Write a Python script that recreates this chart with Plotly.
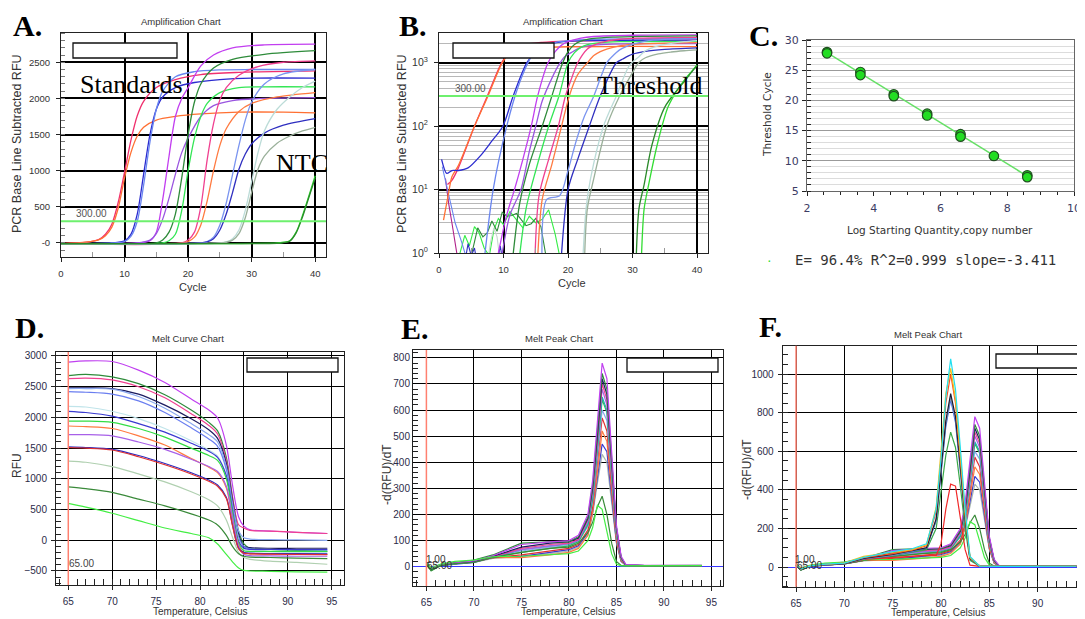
import plotly.graph_objects as go

W, H = 1085, 619
OFF = 8  # the page body keeps its default 8px margin
FW, FH = W - OFF, H - OFF

# ---------------- A / B : amplification curves (16 wells) ----------------
WELL_COLORS = ["#f0306e", "#ff7033", "#2b2bd0", "#6a86f0", "#c23ef0", "#9a55e0",
               "#2e8b3a", "#33e655", "#f04090", "#ff7a40", "#7a94f0", "#2f2fc0",
               "#bcdcd8", "#9ab09a", "#33dd33", "#2a8a2a"]

A_X = [
    [0, 4, 6, 7, 8, 9, 10, 11, 12, 13, 15, 18, 22, 28, 40],
    [0, 4, 6, 7, 8, 9, 10, 11, 12, 13, 15, 18, 22, 28, 35, 40],
    [0, 8, 10, 11, 12, 13, 14, 15, 16, 18, 21, 25, 30, 40],
    [0, 8, 10, 11, 12, 13, 14, 15, 16, 18, 21, 25, 30, 40],
    [0, 12, 14, 15, 16, 17, 18, 19, 20, 22, 24, 27, 32, 40],
    [0, 12, 14, 15, 16, 17, 18, 19, 20, 22, 24, 27, 32, 40],
    [0, 15, 16, 17, 18, 19, 20, 21, 22, 24, 27, 32, 40],
    [0, 16, 17, 18, 19, 20, 21, 22, 23, 25, 28, 32, 40],
    [0, 19, 20, 21, 22, 23, 24, 25, 26, 28, 31, 35, 40],
    [0, 19, 20, 21, 22, 23, 24, 25, 26, 28, 30, 34, 40],
    [0, 22, 23, 24, 25, 26, 27, 28, 29, 30, 32, 35, 40],
    [0, 22, 23, 24, 25, 26, 27, 28, 29, 30, 32, 35, 40],
    [0, 25, 26, 27, 28, 29, 30, 31, 32, 34, 36, 38, 40],
    [0, 25, 26, 27, 28, 29, 30, 31, 32, 34, 36, 38, 40],
    [0, 24, 34, 35, 36, 37, 38, 39, 40],
    [0, 24, 34, 35, 36, 37, 38, 39, 40],
]
A_Y = [
    [-10, 10, 50, 120, 260, 560, 980, 1420, 1760, 1960, 2150, 2260, 2330, 2360, 2380],
    [-10, 10, 45, 100, 220, 480, 900, 1250, 1480, 1600, 1700, 1750, 1785, 1810, 1810, 1800],
    [-10, 0, 30, 120, 400, 950, 1500, 1850, 2020, 2150, 2220, 2260, 2280, 2280],
    [-10, 0, 20, 90, 300, 800, 1400, 1850, 2100, 2300, 2370, 2395, 2400, 2400],
    [-10, 0, 30, 150, 600, 1200, 1750, 2000, 2150, 2450, 2600, 2700, 2740, 2750],
    [-10, 0, 40, 130, 330, 620, 950, 1250, 1450, 1750, 1900, 1970, 2000, 2010],
    [-10, 0, 40, 150, 400, 900, 1500, 1950, 2200, 2420, 2540, 2610, 2660],
    [-10, 0, 30, 120, 450, 1000, 1450, 1750, 1930, 2080, 2150, 2160, 2160],
    [-10, 0, 40, 150, 500, 1150, 1650, 1980, 2150, 2320, 2440, 2500, 2520],
    [-10, 0, 20, 80, 250, 580, 1000, 1350, 1580, 1820, 1930, 2020, 2080],
    [-10, 0, 20, 80, 250, 550, 950, 1350, 1700, 1950, 2200, 2340, 2400],
    [-10, 0, 15, 60, 180, 400, 700, 1020, 1230, 1370, 1520, 1630, 1720],
    [-10, 0, 15, 60, 180, 450, 850, 1250, 1550, 1850, 2020, 2150, 2240],
    [-10, 0, 10, 40, 130, 350, 700, 1020, 1200, 1380, 1480, 1550, 1600],
    [-10, -10, 0, 10, 30, 150, 380, 650, 930],
    [-10, -10, -5, 5, 25, 140, 360, 630, 900],
]

B_X = [
    [1.3, 2, 3, 5.5, 7.5, 9.7, 11, 13, 16, 20, 30, 40],
    [0.7, 1.5, 2, 3, 5.5, 7.6, 9.8, 11, 13, 16, 20, 30, 40],
    [0.4, 1.2, 2, 3, 4.5, 6.4, 8, 9.9, 11.5, 13.6, 15, 17, 20, 30, 40],
    [6.8, 8.4, 10.5, 12.2, 13.8, 15, 18, 25, 40],
    [9.2, 10.5, 11.7, 13, 14.3, 15.3, 16.9, 18, 19, 20, 22, 24, 30, 40],
    [9.8, 11, 12.7, 14, 15, 16, 17.6, 18.5, 19.5, 20.5, 22, 24, 27, 32, 40],
    [11.2, 12.5, 14, 16, 17.5, 19, 20, 21, 22, 24, 27, 32, 40],
    [12.2, 13.5, 15, 17, 18.6, 20, 21, 22, 23, 25, 28, 40],
    [14.8, 15.5, 17, 18.5, 19.6, 20.5, 21.5, 23, 24, 26, 28, 31, 40],
    [15.2, 16, 17.5, 19, 20.2, 21.5, 23, 24, 25, 26, 28, 30, 34, 40],
    [16, 16.7, 18.7, 20, 21.3, 22.5, 24, 26, 27, 28, 29, 30, 32, 35, 40],
    [18.8, 20, 21.5, 23.3, 25, 27.5, 28.5, 30, 32, 35, 40],
    [22.2, 22.8, 23.5, 25.5, 27.5, 29.5, 31, 32, 34, 36, 38, 40],
    [22.5, 23, 24, 26, 28, 30, 31, 32, 34, 36, 38, 40],
    [31.3, 31.8, 32.5, 34, 35.5, 37, 38, 39, 40],
    [30.5, 31, 31.8, 33, 35, 37, 38, 39, 40],
]
B_Y = [
    [12, 14, 22, 100, 300, 1000, 1500, 1900, 2100, 2200, 2250, 2300],
    [3.3, 9, 16, 24, 100, 300, 1000, 1400, 1650, 1750, 1790, 1810, 1800],
    [30, 18, 20, 20, 22, 34, 55, 100, 300, 1000, 1500, 1950, 2200, 2270, 2280],
    [0.5, 10, 100, 400, 1000, 1600, 2100, 2350, 2400],
    [1, 4, 10, 30, 100, 300, 1000, 1500, 1900, 2150, 2450, 2600, 2720, 2750],
    [1, 4, 10, 40, 100, 250, 600, 900, 1250, 1450, 1750, 1900, 1970, 2000, 2010],
    [0.5, 6, 25, 100, 300, 900, 1500, 1950, 2200, 2420, 2540, 2610, 2660],
    [0.5, 5, 20, 100, 300, 1000, 1450, 1750, 1930, 2080, 2150, 2160],
    [0.5, 8, 30, 100, 300, 550, 1000, 1650, 1900, 2200, 2350, 2450, 2520],
    [0.5, 7, 25, 100, 300, 650, 1000, 1300, 1500, 1650, 1850, 1950, 2030, 2080],
    [0.5, 7, 8, 20, 60, 140, 300, 1000, 1300, 1600, 1800, 1950, 2200, 2340, 2400],
    [0.5, 10, 30, 100, 300, 1000, 1150, 1370, 1520, 1630, 1720],
    [0.5, 5, 15, 100, 300, 900, 1250, 1550, 1850, 2020, 2150, 2240],
    [0.5, 5, 15, 100, 300, 700, 1020, 1200, 1380, 1480, 1550, 1600],
    [0.5, 5, 12, 60, 200, 380, 530, 700, 930],
    [0.5, 5, 12, 50, 200, 380, 500, 680, 900],
]

# early-cycle noise seen near the bottom of the log plot
NOISE_COLORS = ["#33ee44", "#2e8b3a", "#b0208a", "#c8d8d0", "#3030c0", "#6a86f0"]
NOISE_X = [
    [3, 4, 4.7, 5.5, 6.2, 7, 7.8, 8.5, 9.2, 10, 11, 12, 13, 14, 15, 16, 17, 18, 18.8],
    [5, 6, 6.8, 7.5, 8.2, 9, 9.8, 10.5, 11.3, 12, 12.8, 13.5, 14.3, 15, 15.8, 16.5],
    [1, 1.5, 2, 2.5, 3],
    [7.5, 8, 8.5, 9, 9.5],
    [4, 4.5, 5, 5.5, 6, 9, 9.5, 10],
    [0.5, 1.5, 2.5, 3.5, 4.3],
]
NOISE_Y = [
    [0.8, 1.9, 1.3, 2.6, 2.1, 1.2, 0.9, 2.3, 3.5, 2.8, 4.5, 3.3, 2.5, 3.8, 3.0, 3.4, 4.8, 2.0, 0.8],
    [0.9, 2.5, 1.8, 2.1, 3.2, 2.2, 4.4, 3.8, 3.9, 4.2, 3.3, 2.7, 2.9, 3.5, 2.6, 1.0],
    [15, 6, 3, 1.5, 0.7],
    [0.7, 1.5, 2.5, 1.8, 0.7],
    [0.7, 1.4, 0.9, 1.2, 0.6, 0.7, 1.3, 0.6],
    [23, 8, 3, 1.5, 0.8],
]
THRESHOLD = 300

# ---------------- C : standard curve ----------------
C_LOGQ = [2.6, 2.6, 3.6, 3.6, 4.6, 4.6, 5.6, 5.6, 6.6, 6.6, 7.6, 8.6, 8.6]
C_CT = [28.0, 27.8, 24.7, 24.2, 21.0, 20.7, 17.8, 17.5, 14.4, 14.0, 10.8, 7.6, 7.3]
FIT_X = [2.6, 8.6]
FIT_Y = [27.9, 7.45]
C_STATS = "E= 96.4% R^2=0.999 slope=-3.411"

# ---------------- D : melt curves ----------------
D_T = [65, 67, 70, 73, 76, 79, 81, 82, 83, 83.7, 84.4, 85, 85.7, 88, 91, 94.5]
D_COLORS = ["#c040f0", "#2e8b3a", "#f04090", "#1c1c60", "#8aa8f0", "#6a7ef0", "#c0e4ea",
            "#3a3ad0", "#33dd44", "#ff7a40", "#a860e8", "#2a2ac0", "#e03030", "#b0d0b0",
            "#3a8a3a", "#44ee44"]
D_Y = [
    [2900, 2920, 2910, 2770, 2570, 2300, 2120, 1990, 1550, 900, 380, 230, 170, 150, 130, 110],
    [2680, 2700, 2660, 2550, 2370, 2120, 1920, 1780, 1350, 700, 150, -60, -130, -150, -165, -180],
    [2630, 2640, 2610, 2500, 2320, 2060, 1870, 1730, 1300, 700, 250, 200, 160, 150, 130, 110],
    [2480, 2480, 2470, 2380, 2200, 1980, 1800, 1660, 1250, 650, 100, -100, -120, -130, -130, -130],
    [2470, 2470, 2460, 2340, 2150, 1900, 1720, 1600, 1200, 600, 150, 40, 20, 10, 5, 0],
    [2420, 2410, 2380, 2270, 2080, 1830, 1650, 1530, 1150, 550, 50, -100, -140, -150, -155, -160],
    [2180, 2170, 2100, 1980, 1820, 1620, 1470, 1370, 1050, 500, 0, -150, -180, -190, -200, -200],
    [2100, 2080, 2020, 1900, 1760, 1580, 1450, 1350, 1050, 500, -20, -130, -150, -150, -150, -150],
    [1940, 1940, 1920, 1820, 1680, 1500, 1380, 1300, 1000, 450, -50, -170, -180, -180, -180, -180],
    [1860, 1850, 1820, 1700, 1550, 1330, 1190, 1100, 850, 350, -80, -200, -220, -225, -230, -230],
    [1720, 1720, 1700, 1600, 1480, 1320, 1200, 1120, 880, 380, -100, -230, -250, -255, -260, -260],
    [1520, 1510, 1480, 1380, 1250, 1100, 980, 900, 700, 250, -130, -200, -210, -215, -215, -220],
    [1510, 1500, 1470, 1360, 1230, 1080, 960, 880, 680, 240, -140, -210, -220, -225, -230, -235],
    [1290, 1270, 1200, 1080, 950, 790, 660, 560, 330, 50, -200, -280, -310, -340, -360, -390],
    [870, 840, 780, 670, 560, 430, 330, 250, 80, -100, -220, -260, -275, -280, -290, -300],
    [600, 540, 440, 320, 200, 110, 40, -60, -230, -350, -450, -490, -500, -505, -515, -520],
]

# ---------------- E : melt peaks (single product, ~83.5 C) ----------------
E_T = [65, 65.5, 66.5, 68, 70, 72, 75, 78, 80, 81, 82, 82.5, 83, 83.5, 84, 84.5, 85, 85.5, 86, 88, 94]
E_COLORS = ["#a8b8b0", "#3a3ad0", "#ff7a40", "#e03030", "#8aa8f0", "#33bb55", "#20b0b0",
            "#a860e8", "#f04090", "#1c1c60", "#2e8b3a", "#c040f0", "#3a8a3a", "#44ee44"]
E_Y = [
    [10, -5, 6, 12, 16, 32, 40, 50, 60, 75, 120, 200, 320, 430, 400, 250, 90, 20, 5, 4, 4],
    [8, -12, 4, 10, 16, 35, 40, 55, 65, 80, 130, 210, 340, 470, 440, 270, 95, 20, 5, 4, 4],
    [10, -8, 5, 12, 18, 35, 35, 45, 55, 70, 120, 210, 360, 520, 480, 290, 100, 22, 5, 4, 4],
    [8, -10, 5, 12, 18, 35, 45, 60, 70, 85, 140, 230, 400, 570, 520, 310, 110, 25, 5, 4, 4],
    [12, -8, 6, 14, 20, 40, 60, 75, 80, 95, 155, 250, 420, 600, 560, 340, 120, 28, 6, 4, 4],
    [10, -15, 5, 12, 18, 38, 55, 70, 80, 95, 160, 260, 440, 640, 590, 350, 125, 28, 5, 4, 4],
    [10, -10, 5, 12, 18, 36, 65, 80, 85, 100, 165, 270, 450, 650, 600, 360, 130, 30, 6, 4, 4],
    [12, -6, 6, 14, 20, 40, 65, 80, 88, 100, 175, 285, 470, 680, 620, 370, 135, 30, 6, 4, 4],
    [14, -5, 8, 15, 20, 38, 70, 85, 90, 105, 180, 290, 480, 700, 640, 380, 140, 30, 6, 4, 4],
    [10, -12, 5, 14, 20, 40, 75, 90, 95, 110, 185, 300, 500, 720, 660, 390, 150, 35, 6, 4, 4],
    [12, -8, 8, 16, 25, 45, 90, 95, 95, 115, 190, 310, 510, 740, 680, 400, 150, 35, 6, 4, 5],
    [15, -5, 8, 15, 22, 42, 85, 95, 100, 120, 200, 330, 540, 780, 720, 420, 160, 40, 8, 5, 5],
    [12, -15, 5, 12, 16, 35, 55, 70, 75, 90, 130, 170, 230, 270, 200, 90, 20, 5, 3, 3, 4],
    [15, -5, 10, 20, 25, 38, 40, 45, 50, 60, 100, 150, 235, 220, 140, 50, 10, 3, 3, 3, 4],
]

# ---------------- F : melt peaks with extra product (~81 C) ----------------
F_T = [65, 65.5, 66.5, 68, 70, 72, 75, 77, 78.5, 79.5, 80, 80.5, 81, 81.5, 82, 82.5, 83, 84, 86, 94]
F_COLORS = ["#f02828", "#3aa84a", "#3060f0", "#8899aa", "#1a1a30", "#ff5020", "#f0c020", "#22e0f0"]
F_Y = [
    [8, -8, 5, 12, 18, 40, 50, 55, 60, 60, 120, 300, 430, 420, 260, 90, 10, 3, 3, 4],
    [10, -12, 6, 14, 20, 45, 60, 78, 90, 200, 380, 580, 700, 620, 420, 200, 35, 5, 3, 4],
    [8, -10, 5, 12, 18, 42, 60, 80, 100, 240, 470, 730, 870, 750, 500, 240, 45, 5, 3, 4],
    [9, -10, 5, 13, 18, 44, 62, 82, 100, 245, 480, 745, 880, 770, 510, 245, 45, 5, 3, 4],
    [8, -15, 4, 12, 18, 45, 65, 85, 100, 250, 490, 760, 900, 780, 520, 250, 45, 5, 3, 4],
    [10, -12, 6, 14, 20, 48, 70, 88, 110, 290, 560, 850, 1000, 850, 560, 270, 50, 5, 3, 4],
    [12, -8, 8, 15, 22, 55, 75, 90, 115, 310, 600, 900, 1030, 870, 580, 280, 50, 5, 3, 4],
    [10, -10, 6, 15, 20, 50, 80, 95, 120, 300, 560, 880, 1080, 920, 620, 300, 55, 5, 3, 4],
]
MELT_START = 65

SANS = "Liberation Sans"
SERIF = "Liberation Serif"
LABEL = "#2b2b48"


def px(x):
    # screen pixel -> paper fraction
    return (x - OFF) / FW


def py(y):
    return 1 - (y - OFF) / FH


def box_axis(**kw):
    ax = dict(showline=True, mirror=True, linecolor="#222", linewidth=1, zeroline=False,
              ticks="outside", ticklen=4, tickcolor="#222", showgrid=True, gridcolor="#000",
              gridwidth=1.2, tickfont=dict(family=SANS, size=10, color=LABEL),
              ticklabeloverflow="allow")
    ax.update(kw)
    return ax


fig = go.Figure()


def add_lines(xs_list, ys_list, colors, axis, shape="spline", width=1.3):
    for xs, ys, c in zip(xs_list, ys_list, colors):
        fig.add_trace(go.Scatter(
            x=xs, y=ys, mode="lines", xaxis=axis[0], yaxis=axis[1], hoverinfo="skip",
            line=dict(color=c, width=width, shape=shape, smoothing=0.8 if shape == "spline" else None),
        ))


# A
add_lines(A_X, A_Y, WELL_COLORS, ("x", "y"))
# B
add_lines(NOISE_X, NOISE_Y, NOISE_COLORS, ("x2", "y2"), shape="linear", width=1.1)
add_lines(B_X, B_Y, WELL_COLORS, ("x2", "y2"))
# C
fig.add_trace(go.Scatter(x=FIT_X, y=FIT_Y, mode="lines", xaxis="x3", yaxis="y3",
                         line=dict(color="#66e066", width=1.5), hoverinfo="skip"))
fig.add_trace(go.Scatter(x=C_LOGQ, y=C_CT, mode="markers", xaxis="x3", yaxis="y3",
                         marker=dict(size=9.5, color="#22dd22", line=dict(color="#1f4f1f", width=1.2)),
                         hoverinfo="skip"))
# D
add_lines([D_T] * len(D_Y), D_Y, D_COLORS, ("x4", "y4"), width=1.2)
# E
add_lines([E_T] * len(E_Y), E_Y, E_COLORS, ("x5", "y5"), shape="linear", width=1.2)
# F
add_lines([E_T] * len(E_Y), E_Y, E_COLORS, ("x6", "y6"), shape="linear", width=1.2)
add_lines([F_T] * len(F_Y), F_Y, F_COLORS, ("x6", "y6"), shape="linear", width=1.2)

amp_font = dict(family=SANS, size=9.5, color="#333")
a_ticks = [0, 500, 1000, 1500, 2000, 2500]

layout_axes = dict(
    # A
    xaxis=box_axis(domain=[px(61), px(326)], range=[0, 41.7], tickvals=[0, 10, 20, 30, 40],
                   gridwidth=1.8, tickfont=amp_font, ticklabelstandoff=4, anchor="y",
                   minor=dict(ticks="inside", tickmode="linear", tick0=5, dtick=10, ticklen=5,
                              tickcolor="#999")),
    yaxis=box_axis(domain=[py(257), py(33)], range=[-194, 2905], tickvals=a_ticks,
                   ticktext=["-0"] + [str(v) for v in a_ticks[1:]], gridwidth=1.8,
                   tickfont=amp_font, ticklabelstandoff=4, anchor="x",
                   minor=dict(ticks="inside", tickmode="linear", tick0=0, dtick=100, ticklen=4,
                              tickcolor="#777")),
    # B
    xaxis2=box_axis(domain=[px(439), px(708)], range=[0, 41.7], tickvals=[0, 10, 20, 30, 40],
                    gridwidth=1.8, tickfont=amp_font, ticklabelstandoff=4, anchor="y2",
                    minor=dict(ticks="inside", tickmode="linear", tick0=5, dtick=10, ticklen=5,
                               tickcolor="#999")),
    yaxis2=box_axis(domain=[py(253), py(33)], type="log", range=[0, 3.47],
                    tickvals=[1, 10, 100, 1000],
                    ticktext=["10<sup>0</sup>", "10<sup>1</sup>", "10<sup>2</sup>", "10<sup>3</sup>"],
                    gridwidth=1.8, tickfont=dict(family=SANS, size=10.5, color="#333"),
                    ticklabelstandoff=4, anchor="x2",
                    minor=dict(tickmode="array", showgrid=True, gridcolor="#b8b8b8", gridwidth=1,
                               tickvals=[m * 10 ** e for e in range(4) for m in range(2, 10)])),
    # C
    xaxis3=box_axis(domain=[px(807), px(1074)], range=[2, 10], dtick=2, tick0=2, showgrid=False,
                    linecolor="#666", anchor="y3", ticklabelstandoff=3,
                    tickfont=dict(family="DejaVu Sans", size=11, color="#3c3c64"),
                    minor=dict(ticks="outside", tickmode="linear", tick0=2, dtick=0.5, ticklen=3,
                               tickcolor="#222")),
    yaxis3=box_axis(domain=[py(191), py(40)], range=[5, 30], dtick=5, tick0=5, gridcolor="#9a9a9a",
                    gridwidth=1, linecolor="#666", anchor="x3", ticklabelstandoff=1,
                    tickfont=dict(family="DejaVu Sans", size=11, color="#3c3c64"),
                    minor=dict(ticks="inside", tickmode="linear", tick0=5, dtick=1, ticklen=4,
                               tickcolor="#222", showgrid=True, gridcolor="#dcdcdc", gridwidth=1)),
    # D
    xaxis4=box_axis(domain=[px(56), px(344)], range=[63.6, 96.4], dtick=5, tick0=65, anchor="y4",
                    ticklabelstandoff=3,
                    minor=dict(ticks="inside", tickmode="linear", tick0=65, dtick=1, ticklen=6,
                               tickcolor="#222")),
    yaxis4=box_axis(domain=[py(585), py(352)], range=[-728, 3065], dtick=500, tick0=0, anchor="x4",
                    ticklabelstandoff=2,
                    minor=dict(ticks="inside", tickmode="linear", tick0=0, dtick=100, ticklen=5,
                               tickcolor="#222")),
    # E
    xaxis5=box_axis(domain=[px(413), px(723)], range=[63.59, 96.22], dtick=5, tick0=65, anchor="y5",
                    ticklabelstandoff=3,
                    minor=dict(ticks="inside", tickmode="linear", tick0=65, dtick=1, ticklen=6,
                               tickcolor="#222")),
    yaxis5=box_axis(domain=[py(586), py(350)], range=[-74, 830], dtick=100, tick0=0, anchor="x5",
                    zeroline=True, zerolinecolor="#3838ff", zerolinewidth=1.2, ticks="",
                    minor=dict(ticks="inside", tickmode="linear", tick0=0, dtick=20, ticklen=5,
                               tickcolor="#222")),
    # F
    xaxis6=box_axis(domain=[px(782.7), 1], range=[63.62, 94.9], dtick=5, tick0=65, anchor="y6",
                    ticklabelstandoff=3,
                    minor=dict(ticks="inside", tickmode="linear", tick0=65, dtick=1, ticklen=6,
                               tickcolor="#222")),
    yaxis6=box_axis(domain=[py(586.7), py(345.7)], range=[-102, 1148], dtick=200, tick0=0,
                    anchor="x6", mirror=False, zeroline=True, zerolinecolor="#3838ff",
                    zerolinewidth=1.2, ticklabelstandoff=2,
                    minor=dict(ticks="inside", tickmode="linear", tick0=0, dtick=50, ticklen=5,
                               tickcolor="#222")),
)

shapes = []
# legend placeholder boxes
for x0, y0, x1, y1 in [(73, 43, 177, 58), (453, 43, 554, 58), (247, 358, 338, 372),
                       (627, 358, 718, 372), (996, 354, 1090, 368)]:
    shapes.append(dict(type="rect", xref="paper", yref="paper", x0=px(x0), x1=px(x1),
                       y0=py(y1), y1=py(y0), fillcolor="white", line=dict(color="#111", width=1.3)))
# threshold lines
for xa, ya in [("x", "y"), ("x2", "y2")]:
    shapes.append(dict(type="line", xref=xa + " domain", yref=ya, x0=0, x1=1,
                       y0=THRESHOLD, y1=THRESHOLD, line=dict(color="#6ef06e", width=2)))
# melt start markers
for xa, ya in [("x4", "y4"), ("x5", "y5"), ("x6", "y6")]:
    shapes.append(dict(type="line", xref=xa, yref=ya + " domain", x0=MELT_START, x1=MELT_START,
                       y0=0, y1=1, line=dict(color="#ff8070", width=1.5)))

annotations = []


def note(text, x, y, size, family=SANS, color="#333", angle=0, bold=False):
    annotations.append(dict(
        text=f"<b>{text}</b>" if bold else text, x=px(x), y=py(y), xref="paper", yref="paper",
        showarrow=False, xanchor="center", yanchor="middle", textangle=angle,
        font=dict(family=family, size=size, color=color),
    ))


for letter, x, y in [("A.", 28, 25), ("B.", 413, 26), ("C.", 763, 35),
                     ("D.", 29, 327), ("E.", 415, 328), ("F.", 770, 326)]:
    note(letter, x, y, 30, family=SERIF, color="#000", bold=True)

note("Amplification Chart", 181, 21, 9.5)
note("Amplification Chart", 563, 21, 9.5)
note("Melt Curve Chart", 188, 338, 9.5)
note("Melt Peak Chart", 559, 338, 9.5)
note("Melt Peak Chart", 928, 334, 9.5)

note("PCR Base Line Subtracted RFU", 17, 144, 12.5, angle=-90)
note("PCR Base Line Subtracted RFU", 402, 144, 12.5, angle=-90)
note("Cycle", 193, 287, 11)
note("Cycle", 572, 283, 11)

note("Threshold Cycle", 767, 115, 10.5, family="DejaVu Sans", angle=-90)
note("Log Starting Quantity,copy number", 940, 230, 10.5, family="DejaVu Sans")
note(C_STATS, 925, 260, 14, family="DejaVu Sans Mono")
note("·", 769, 260, 14, color="#33dd33")

note("RFU", 17, 466, 12, angle=-90)
note("Temperature, Celsius", 200, 611, 10)
note("-d(RFU)/dT", 387, 475, 12, angle=-90)
note("Temperature, Celsius", 568, 611, 10)
note("-d(RFU)/dT", 747, 470, 12, angle=-90)
note("Temperature, Celsius", 938, 612, 10)

note("Standards", 131, 84, 26, family=SERIF, color="#000")
note("NTC", 302, 163, 26, family=SERIF, color="#000")
note("Threshold", 649, 85, 26, family=SERIF, color="#000")

note("300.00", 91, 213, 10, color="#555")
note("300.00", 470, 88, 10, color="#555")
note("65.00", 81, 563, 10, color="#444")
note("1.00", 436, 559, 10, color="#333")
note("65.00", 439, 565, 10, color="#333")
note("1.00", 805, 559, 10, color="#333")
note("65.00", 809, 565, 10, color="#333")

fig.update_layout(
    width=FW, height=FH, autosize=False, showlegend=False,
    margin=dict(l=0, r=0, t=0, b=0, autoexpand=False),
    paper_bgcolor="white", plot_bgcolor="white",
    shapes=shapes, annotations=annotations,
    **layout_axes,
)

fig.write_html("out.html")
